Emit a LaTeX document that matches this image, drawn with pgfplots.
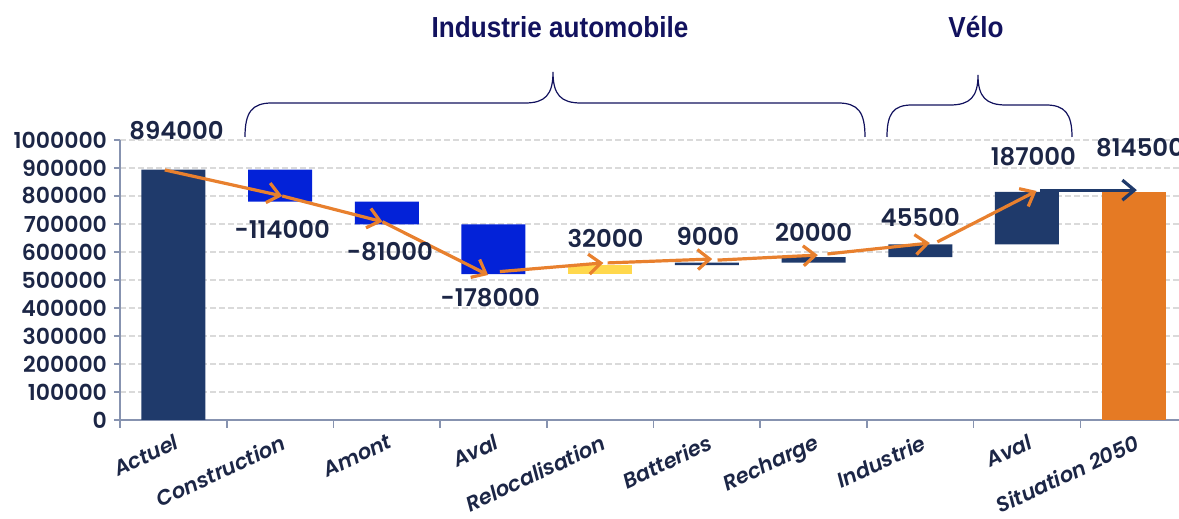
\documentclass[border=0pt]{standalone}
\usepackage{pgfplots}
\pgfplotsset{compat=1.18}
\usepackage{pgfplotstable}
\usepackage{fontspec}
\setmainfont{Poppins}
\newfontfamily\popsemi{Poppins SemiBold}[ItalicFont={Poppins SemiBold Italic}]
\newfontfamily\headfont{Liberation Sans}
\usetikzlibrary{arrows.meta}

\definecolor{navybar}{HTML}{1F3A6B}
\definecolor{bluebar}{HTML}{0322D8}
\definecolor{yellowbar}{HTML}{FFD84D}
\definecolor{orangebar}{HTML}{E57A24}
\definecolor{arroworange}{HTML}{E8802E}
\definecolor{textnavy}{HTML}{1C2646}
\definecolor{headnavy}{HTML}{12125E}
\definecolor{axisblue}{HTML}{8793B0}
\definecolor{gridgrey}{HTML}{DADADA}

% waterfall: invisible base plus one column per colour
\pgfplotstableread{
idx base   navy   blue   yellow orange
0   0      894000 0      0      0
1   780000 0      114000 0      0
2   699000 0      81000  0      0
3   521000 0      178000 0      0
4   521000 0      0      32000  0
5   553000 9000   0      0      0
6   562000 20000  0      0      0
7   582000 45500  0      0      0
8   627500 187000 0      0      0
9   0      0      0      0      814500
}\waterfall

\tikzset{
  vallab/.style={font=\popsemi\fontsize{12.2}{14}\selectfont, text=textnavy, inner sep=0pt},
  runarrow/.style={arroworange, line width=1.6pt, -{Straight Barb[length=6pt,width=10pt]}},
  heading/.style={font=\headfont\bfseries\fontsize{14.5}{16}\selectfont, text=headnavy, xscale=0.9},
}
\pgfplotsset{
  frame/.style={
    at={(60pt,49.5pt)}, anchor=south west,
    scale only axis, width=529.5pt, height=140pt,
    xmin=-0.5, xmax=9.425, ymin=0, ymax=1000000, clip=false,
  },
}

\begin{document}
\begin{tikzpicture}
\path[use as bounding box] (0,0) rectangle (589.5pt,259.5pt);

\begin{axis}[frame,
  ybar stacked, bar width=32pt,
  axis x line*=bottom, axis y line*=left,
  axis line style={axisblue, line width=1.2pt},
  tick align=outside,
  ytick={0,100000,...,1000000},
  scaled y ticks=false,
  /pgf/number format/.cd, fixed, 1000 sep={}, assume math mode=true, /pgfplots/.cd,
  yticklabel style={font=\popsemi\fontsize{11}{12}\selectfont, text=textnavy},
  major tick length=3pt, minor tick length=4pt,
  major y tick style={axisblue, line width=0.8pt},
  major x tick style={draw=none},
  minor x tick style={axisblue, line width=0.8pt},
  xtick={0,...,9},
  minor xtick={-0.5,0.5,...,8.5},
  xticklabels={Actuel, Construction, Amont, Aval, Relocalisation, Batteries, Recharge, Industrie, Aval, Situation 2050},
  xticklabel style={rotate=25, anchor=north east, xshift=2pt, font=\popsemi\itshape\fontsize{10.5}{12}\selectfont, text=textnavy},
  ymajorgrids,
  grid style={gridgrey, line width=0.6pt, dash pattern=on 3pt off 1.5pt},
]
\addplot[draw=none, fill=none] table[x=idx, y=base] {\waterfall};
\addplot[draw=none, fill=navybar] table[x=idx, y=navy] {\waterfall};
\addplot[draw=none, fill=bluebar] table[x=idx, y=blue] {\waterfall};
\addplot[draw=none, fill=yellowbar] table[x=idx, y=yellow] {\waterfall};
\addplot[draw=none, fill=orangebar] table[x=idx, y=orange] {\waterfall};
\end{axis}

\begin{axis}[frame, hide axis]
% running-total arrows
\addplot[runarrow] coordinates {(-0.08,893000) (1.02,800000)};
\addplot[runarrow] coordinates {(1.02,800000) (1.96,708000)};
\addplot[runarrow] coordinates {(1.96,708000) (2.95,518000)};
\addplot[runarrow] coordinates {(3.06,530000) (4.03,561000)};
\addplot[runarrow] coordinates {(4.07,561000) (5.05,575000)};
\addplot[runarrow] coordinates {(5.10,571000) (6.04,589000)};
\addplot[runarrow] coordinates {(6.13,593000) (7.09,632000)};
\addplot[runarrow] coordinates {(7.16,636000) (8.09,818000)};
\addplot[runarrow, navybar] coordinates {(8.12,821000) (9.03,821000)};
% value labels
\node[vallab] at (axis cs:0.03,1032000) {894000};
\node[vallab] at (axis cs:1.02,679000) {-114000};
\node[vallab] at (axis cs:2.03,600000) {-81000};
\node[vallab] at (axis cs:2.97,436000) {-178000};
\node[vallab] at (axis cs:4.05,650000) {32000};
\node[vallab] at (axis cs:5.01,654000) {9000};
\node[vallab] at (axis cs:6.00,671000) {20000};
\node[vallab] at (axis cs:7.00,725000) {45500};
\node[vallab] at (axis cs:8.06,939000) {187000};
\node[vallab] at (axis cs:9.06,971000) {814500};
\end{axis}

% group headings and braces
\begin{scope}[x=0.5pt, y=-0.5pt, yshift=259.5pt]
\node[heading] at (560,27) {Industrie automobile};
\node[heading] at (976,27) {Vélo};
\draw[headnavy, line width=0.6pt]
  (245,137) .. controls (245,112) and (252,103) .. (272,103) -- (525,103)
  .. controls (545,103) and (553,95) .. (553,72)
  .. controls (553,95) and (561,103) .. (581,103) -- (838,103)
  .. controls (858,103) and (865,112) .. (865,137);
\draw[headnavy, line width=0.6pt]
  (887,137) .. controls (887,114) and (893,105) .. (912,105) -- (950,105)
  .. controls (970,105) and (978,97) .. (978,75)
  .. controls (978,97) and (986,105) .. (1006,105) -- (1046,105)
  .. controls (1065,105) and (1072,114) .. (1072,137);
\end{scope}
\end{tikzpicture}
\end{document}
